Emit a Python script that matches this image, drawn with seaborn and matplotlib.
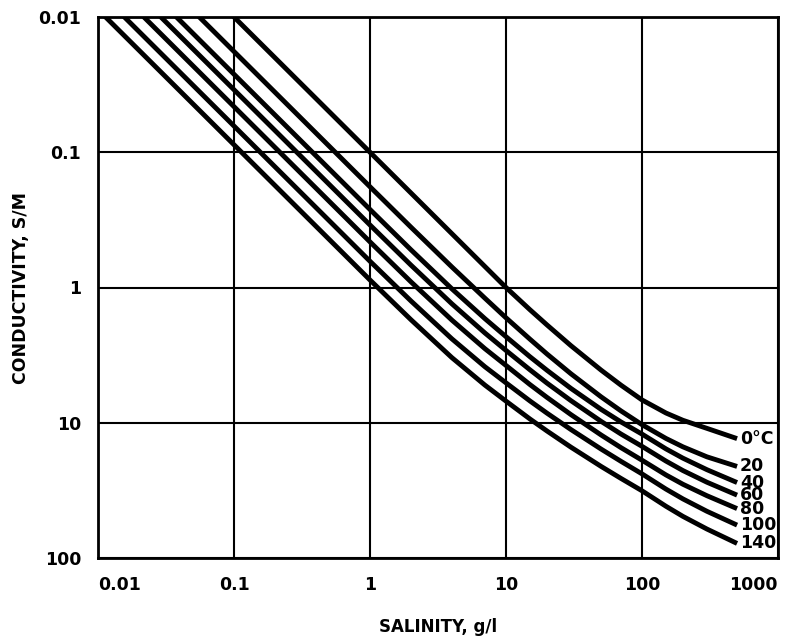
import numpy as np
import pandas as pd
import matplotlib
matplotlib.use("Agg")
import matplotlib.pyplot as plt
import seaborn as sns

# Salinity sample points (g/l) shared by every curve
salinity = [0.01, 0.1, 1, 2, 4, 7, 10, 15, 20, 30, 50, 70, 100, 150, 200, 300, 500]

# Conductivity (S/M) at each salinity, one list per temperature
cond_0 = [0.001, 0.01, 0.1, 0.2, 0.4, 0.7, 1.0, 1.46, 1.89, 2.69, 4.08, 5.27,
          6.78, 8.47, 9.59, 11.0, 13.1]
cond_20 = [0.0018, 0.018, 0.18, 0.358, 0.705, 1.20, 1.675, 2.41, 3.10, 4.34,
           6.43, 8.17, 10.33, 13.06, 15.07, 17.86, 21.04]
cond_40 = [0.00265, 0.0265, 0.265, 0.526, 1.023, 1.70, 2.31, 3.25, 4.09, 5.57,
           7.96, 9.86, 12.13, 15.6, 18.28, 22.23, 27.67]
cond_60 = [0.00345, 0.0345, 0.345, 0.683, 1.32, 2.17, 2.92, 4.06, 5.09, 6.86,
           9.76, 12.11, 14.94, 19.2, 22.57, 27.52, 34.28]
cond_80 = [0.0046, 0.046, 0.46, 0.908, 1.742, 2.835, 3.77, 5.22, 6.49, 8.70,
           12.31, 15.27, 18.92, 24.31, 28.50, 34.62, 43.13]
cond_100 = [0.0064, 0.064, 0.64, 1.257, 2.397, 3.855, 5.07, 6.90, 8.49, 11.22,
            15.65, 19.28, 23.88, 30.94, 36.57, 45.14, 57.11]
cond_140 = [0.0088, 0.088, 0.88, 1.73, 3.30, 5.27, 6.92, 9.38, 11.5, 15.15,
            21.02, 25.79, 31.84, 41.44, 49.24, 61.06, 78.03]

temperatures = [0, 20, 40, 60, 80, 100, 140]
curve_labels = ["0°C", "20", "40", "60", "80", "100", "140"]
conductivity = [cond_0, cond_20, cond_40, cond_60, cond_80, cond_100, cond_140]

x_ticks = [0.01, 0.1, 1, 10, 100, 1000]
x_tick_labels = ["0.01", "0.1", "1", "10", "100", "1000"]
y_ticks = [0.01, 0.1, 1, 10, 100]
y_tick_labels = ["0.01", "0.1", "1", "10", "100"]

rows = []
for t, vals in zip(temperatures, conductivity):
    for s, c in zip(salinity, vals):
        rows.append({"salinity": s, "conductivity": c, "temp": t})
df = pd.DataFrame(rows)

sns.set_theme(style="white")
plt.rcParams["font.family"] = ["DejaVu Sans"]

fig = plt.figure(figsize=(7.85, 6.38), dpi=100)
ax = fig.add_axes([98 / 785, 1 - 558 / 638, 680 / 785, 541 / 638])

sns.lineplot(
    data=df, x="salinity", y="conductivity", hue="temp",
    palette=["black"] * len(temperatures), linewidth=3.5,
    legend=False, ax=ax, sort=True, estimator=None,
)
for ln in ax.get_lines():
    ln.set_solid_joinstyle("round")
    ln.set_solid_capstyle("butt")

ax.set_xscale("log")
ax.set_yscale("log")
ax.set_xlim(0.01, 1000)
ax.set_ylim(100, 0.01)

ax.set_xticks(x_ticks)
ax.set_xticklabels(x_tick_labels)
ax.set_yticks(y_ticks)
ax.set_yticklabels(y_tick_labels)
ax.minorticks_off()
ax.tick_params(axis="both", length=0, labelsize=12.5, colors="black")
for lab in ax.get_xticklabels() + ax.get_yticklabels():
    lab.set_fontweight("bold")
xlabs = ax.get_xticklabels()
xlabs[0].set_horizontalalignment("left")
xlabs[-1].set_horizontalalignment("right")
ax.tick_params(axis="x", pad=13)
ax.tick_params(axis="y", pad=12)

ax.grid(True, which="major", color="black", linewidth=1.5)
for sp in ax.spines.values():
    sp.set_color("black")
    sp.set_linewidth(2)
    sp.set_visible(True)

ax.set_xlabel("SALINITY, g/l", fontsize=12, fontweight="bold", color="black")
ax.set_ylabel("CONDUCTIVITY, S/M", fontsize=12.5, fontweight="bold", color="black")
ax.xaxis.set_label_coords(0.5, -0.11)
ax.yaxis.set_label_coords(-0.1, 0.5)

# temperature tags at the right end of each curve
for lab, vals in zip(curve_labels, conductivity):
    ax.annotate(lab, xy=(salinity[-1], vals[-1]), xytext=(2, 0),
                textcoords="offset points", ha="left", va="center",
                fontsize=12.5, fontweight="bold", color="black",
                annotation_clip=False)

fig.savefig("out.png", dpi=100, facecolor="white")
